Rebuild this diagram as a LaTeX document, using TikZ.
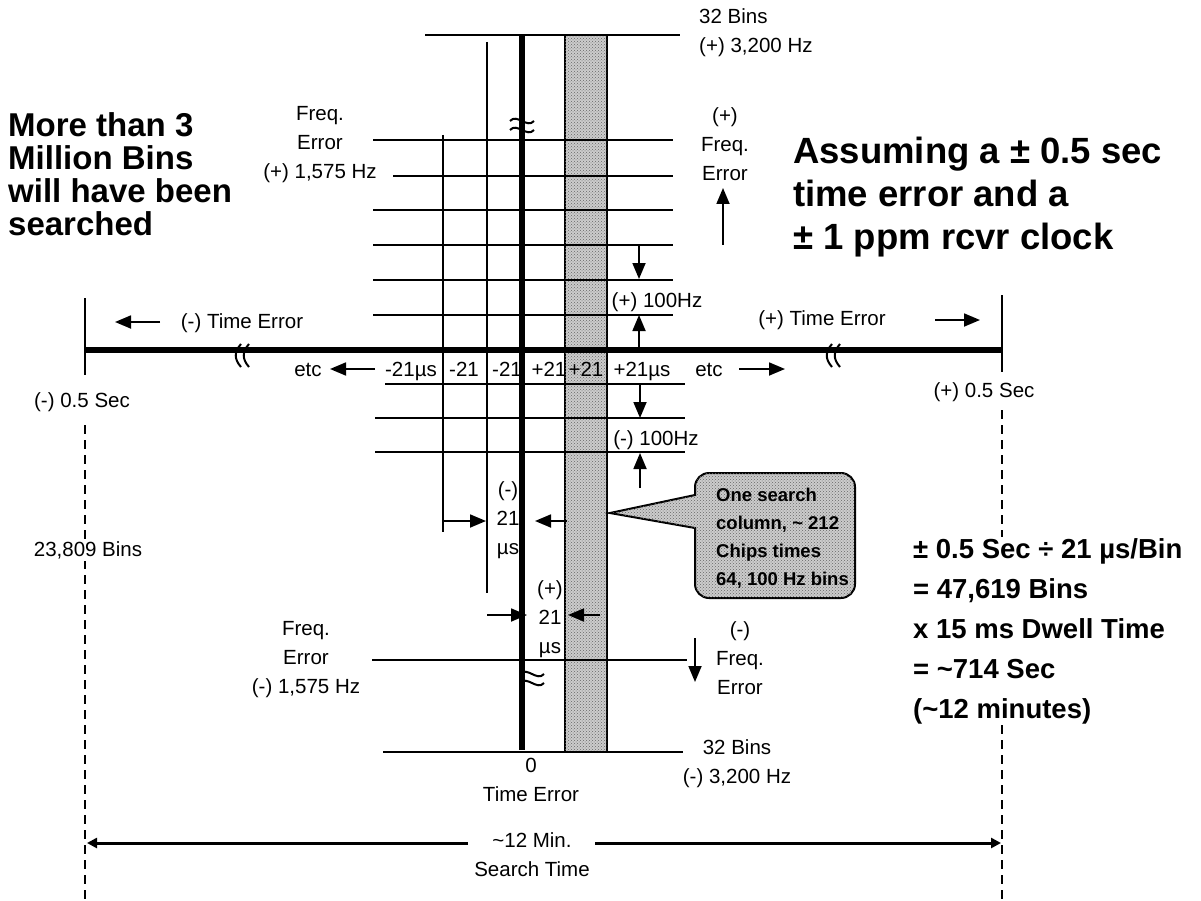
\documentclass[tikz,border=0pt]{standalone}
\usepackage{fontspec}
\setmainfont{Liberation Sans}
\usepackage{tikz}
\usetikzlibrary{arrows.meta,patterns}
\tikzset{
  binpicture/.style={x=1pt, y=-1pt},
  binline/.style={line width=1.8pt},
  binaxis/.style={line width=6.5pt},
  binzero/.style={line width=6pt},
  bindash/.style={line width=1.8pt, dash pattern=on 9pt off 6pt},
  binbreak/.style={line width=2pt},
  binshade/.style={fill=gray!40, postaction={pattern=crosshatch dots, pattern color=black!60}},
  binlabel/.style={inner sep=0pt, align=center, font=\fontsize{20.5}{29}\selectfont},
  bincol/.style={binlabel, anchor=base},
  binbig/.style={inner sep=0pt, align=left, font=\bfseries\fontsize{33}{33}\selectfont},
  binhuge/.style={inner sep=0pt, align=left, font=\bfseries\fontsize{36.5}{43}\selectfont},
  binsum/.style={inner sep=1pt, align=left, fill=white, font=\bfseries\fontsize{27.5}{40}\selectfont},
  bincallout/.style={inner sep=0pt, align=left, font=\bfseries\fontsize{18.5}{28}\selectfont},
  binarrow/.style={-{Triangle[length=16pt,width=13pt]}, line width=1.8pt},
  binspan/.style={-{Triangle[length=10pt,width=10pt]}, line width=3pt}
}

\begin{document}
\begin{tikzpicture}[binpicture]
\useasboundingbox (0,0) rectangle (1201,901);

% one search column
\draw[binshade, binline] (565,35) rectangle (607,752);

% frequency bins
\draw[binline] (425,35) -- (680,35);
\draw[binline] (373,140) -- (673,140);
\draw[binline] (393,176) -- (673,176);
\draw[binline] (373,210) -- (673,210);
\draw[binline] (373,245) -- (673,245);
\draw[binline] (373,280) -- (673,280);
\draw[binline] (373,315) -- (673,315);
\draw[binline] (385,384) -- (685,384);
\draw[binline] (375,418) -- (685,418);
\draw[binline] (375,452) -- (685,452);
\draw[binline] (372,660) -- (687,660);
\draw[binline] (383,752) -- (683,752);

% time bins
\draw[binline] (443,135) -- (443,532);
\draw[binline] (487,42) -- (487,593);
\draw[binzero] (522,35) -- (522,750);
\draw[binbreak] (510,121) .. controls (517,113) and (527,129) .. (534,121);
\draw[binbreak] (510,130) .. controls (517,122) and (527,138) .. (534,130);
\draw[binbreak] (520,674) .. controls (527,666) and (537,682) .. (544,674);
\draw[binbreak] (520,683) .. controls (527,675) and (537,691) .. (544,683);

% time error axis
\draw[binaxis] (85,350) -- (1002,350);
\draw[binline] (85,298) -- (85,375);
\draw[binline] (1002,295) -- (1002,372);
\draw[bindash] (85,425) -- (85,901);
\draw[bindash] (1002,410) -- (1002,901);
\draw[binbreak] (241,344) .. controls (234,352) and (234,359) .. (241,367);
\draw[binbreak] (249,344) .. controls (242,352) and (242,359) .. (249,367);
\draw[binbreak] (832,344) .. controls (825,352) and (825,359) .. (832,367);
\draw[binbreak] (840,344) .. controls (833,352) and (833,359) .. (840,367);

% axis labels
\node[binlabel] (minuste) at (242,323) {(-) Time Error};
\node[binlabel] (pluste) at (822,320) {(+) Time Error};
\coordinate (minustetail) at (160,322);
\coordinate (minustetip) at (115,322);
\coordinate (plustetail) at (935,320);
\coordinate (plustetip) at (980,320);
\draw[binarrow] (minustetail) -- (minustetip);
\draw[binarrow] (plustetail) -- (plustetip);
\node[binlabel] (minushalf) at (82,402) {(-) 0.5 Sec};
\node[binlabel] (plushalf) at (984,392) {(+) 0.5 Sec};
\node[binlabel, fill=white, inner sep=2pt] (halfbins) at (88,550) {23,809 Bins};

% column labels
\node[bincol] (colA) at (411,376) {-21µs};
\node[bincol] (colB) at (464,376) {-21};
\node[bincol] (colC) at (507,376) {-21};
\node[bincol] (colD) at (549,376) {+21};
\node[bincol] (colE) at (586,376) {+21};
\node[bincol] (colF) at (642,376) {+21µs};
\node[bincol] (etcleft) at (308,376) {etc};
\node[bincol] (etcright) at (709,376) {etc};
\coordinate (etclefttail) at (375,369);
\coordinate (etclefttip) at (330,369);
\coordinate (etcrighttail) at (739,369);
\coordinate (etcrighttip) at (785,369);
\draw[binarrow] (etclefttail) -- (etclefttip);
\draw[binarrow] (etcrighttail) -- (etcrighttip);

% frequency labels
\node[binlabel] (topbins) at (699,33) [anchor=west, align=left] {32 Bins\\(+) 3,200 Hz};
\node[binlabel] (botbins) at (737,764) {32 Bins\\(-) 3,200 Hz};
\node[binlabel] (freqtopleft) at (320,145) {Freq.\\Error\\(+) 1,575 Hz};
\node[binlabel] (freqtopright) at (725,144) {(+)\\Freq.\\Error};
\node[binlabel] (freqbotleft) at (306,660) {Freq.\\Error\\(-) 1,575 Hz};
\node[binlabel] (freqbotright) at (740,658) {(-)\\Freq.\\Error};
\coordinate (uptail) at (723,245);
\coordinate (uptip) at (723,188);
\coordinate (downtail) at (695,638);
\coordinate (downtip) at (695,682);
\draw[binarrow] (uptail) -- (uptip);
\draw[binarrow] (downtail) -- (downtip);

% 100 Hz bin width
\node[binlabel] (plushz) at (657,302) {(+) 100Hz};
\node[binlabel] (minushz) at (656,440) {(-) 100Hz};
\coordinate (phzA) at (639,245);
\coordinate (phzB) at (639,279);
\coordinate (phzC) at (639,349);
\coordinate (phzD) at (639,315);
\coordinate (mhzA) at (640,384);
\coordinate (mhzB) at (640,418);
\coordinate (mhzC) at (640,488);
\coordinate (mhzD) at (640,453);
\draw[binarrow] (phzA) -- (phzB);
\draw[binarrow] (phzC) -- (phzD);
\draw[binarrow] (mhzA) -- (mhzB);
\draw[binarrow] (mhzC) -- (mhzD);

% 21 us bin width
\node[binlabel] (minusus) at (508,520) {(-)\\21\\µs};
\node[binlabel] (plusus) at (550,619) {(+)\\21\\µs};
\coordinate (musA) at (443,521);
\coordinate (musB) at (486,521);
\coordinate (musC) at (567,521);
\coordinate (musD) at (535,521);
\coordinate (pusA) at (487,615);
\coordinate (pusB) at (527,615);
\coordinate (pusC) at (600,615);
\coordinate (pusD) at (568,615);
\draw[binarrow] (musA) -- (musB);
\draw[binarrow] (musC) -- (musD);
\draw[binarrow] (pusA) -- (pusB);
\draw[binarrow] (pusC) -- (pusD);

\node[binlabel] (zero) at (531,780) {0\\Time Error};

% callout
\draw[binshade, line width=2pt] (610,513) -- (695,495) {[rounded corners=14pt] -- (695,473) -- (855,473) -- (855,598) -- (695,598)} -- (695,528) -- cycle;
\node[bincallout, anchor=north west] (column) at (716,488) {One search\\column, \textasciitilde{} 212\\Chips times\\64, 100 Hz bins};

% search time
\node[binlabel] (spantxt) at (532,855) {\textasciitilde{}12 Min.\\Search Time};
\coordinate (spanL) at (87,843);
\coordinate (spanR) at (1001,843);
\draw[binspan] (468,843) -- (spanL);
\draw[binspan] (595,843) -- (spanR);

% notes
\node[binbig, anchor=north west] (million) at (8,112) {More than 3\\Million Bins\\will have been\\searched};
\node[binhuge, anchor=north west] (assume) at (793,137) {Assuming a ± 0.5 sec\\time error and a\\± 1 ppm rcvr clock};
\node[binsum, anchor=north west] (dwell) at (912,537) {± 0.5 Sec ÷ 21 µs/Bin\\= 47,619 Bins\\x 15 ms Dwell Time\\= \textasciitilde{}714 Sec\\(\textasciitilde{}12 minutes)};
\end{tikzpicture}
\end{document}
